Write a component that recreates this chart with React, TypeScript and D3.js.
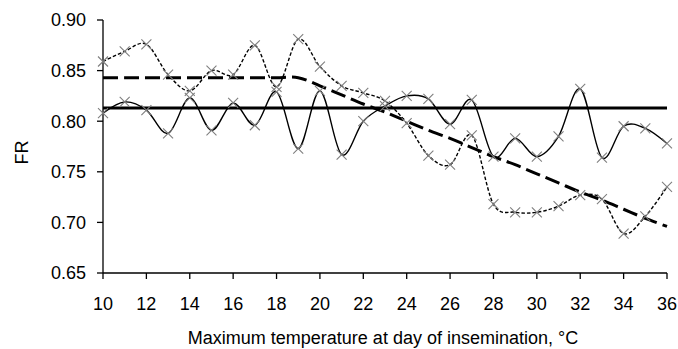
import React, { useRef, useEffect } from "react";
import * as d3 from "d3";

// temperature at day of insemination, °C
const temps = [10, 11, 12, 13, 14, 15, 16, 17, 18, 19, 20, 21, 22, 23, 24, 25, 26, 27, 28, 29, 30, 31, 32, 33, 34, 35, 36];

// solid series
const frSolid = [
  0.808, 0.819, 0.811, 0.788, 0.823, 0.791, 0.818, 0.796, 0.829, 0.773, 0.83, 0.767, 0.8, 0.815,
  0.825, 0.822, 0.797, 0.821, 0.765, 0.783, 0.765, 0.785, 0.832, 0.764, 0.795, 0.793, 0.778,
];

// dotted series
const frDotted = [
  0.859, 0.869, 0.876, 0.846, 0.83, 0.85, 0.846, 0.875, 0.834, 0.881, 0.854, 0.835, 0.828, 0.82,
  0.798, 0.766, 0.757, 0.786, 0.718, 0.71, 0.71, 0.716, 0.727, 0.723, 0.689, 0.706, 0.735,
];

// fitted plateau + linear decline
const frTrend = [
  0.843, 0.843, 0.843, 0.843, 0.843, 0.843, 0.843, 0.843, 0.843, 0.843, 0.835, 0.826, 0.817, 0.809,
  0.8, 0.791, 0.783, 0.774, 0.765, 0.757, 0.748, 0.739, 0.73, 0.722, 0.713, 0.704, 0.696,
];

// overall mean
const frMean = 0.813;

const xTicks = [10, 12, 14, 16, 18, 20, 22, 24, 26, 28, 30, 32, 34, 36];
const yTicks = [0.65, 0.7, 0.75, 0.8, 0.85, 0.9];

const WIDTH = 678;
const HEIGHT = 349;
const FONT = "'Liberation Sans', Arial, sans-serif";

export default function App() {
  const svgRef = useRef<SVGSVGElement>(null);

  useEffect(() => {
    document.body.style.margin = "0";
    const svg = d3.select(svgRef.current);
    svg.selectAll("*").remove();

    const x = d3.scaleLinear().domain([10, 36]).range([103, 667]);
    const y = d3.scaleLinear().domain([0.65, 0.9]).range([273, 20]);

    const g = svg.append("g");

    // axes
    g.append("line")
      .attr("x1", x(10)).attr("x2", x(10))
      .attr("y1", y(0.9)).attr("y2", y(0.65))
      .attr("stroke", "#000").attr("stroke-width", 1.3);
    g.append("line")
      .attr("x1", x(10)).attr("x2", x(36))
      .attr("y1", y(0.65)).attr("y2", y(0.65))
      .attr("stroke", "#000").attr("stroke-width", 1.3);

    yTicks.forEach((t) => {
      g.append("line")
        .attr("x1", x(10) - 6).attr("x2", x(10))
        .attr("y1", y(t)).attr("y2", y(t))
        .attr("stroke", "#000").attr("stroke-width", 1.3);
      g.append("text")
        .attr("x", 86)
        .attr("y", y(t))
        .attr("dy", "0.36em")
        .attr("text-anchor", "end")
        .attr("font-family", FONT)
        .attr("font-size", "18px")
        .attr("fill", "#000")
        .text(t.toFixed(2));
    });

    xTicks.forEach((t) => {
      g.append("line")
        .attr("x1", x(t)).attr("x2", x(t))
        .attr("y1", y(0.65)).attr("y2", y(0.65) + 6)
        .attr("stroke", "#000").attr("stroke-width", 1.3);
      g.append("text")
        .attr("x", x(t))
        .attr("y", 310)
        .attr("text-anchor", "middle")
        .attr("font-family", FONT)
        .attr("font-size", "18px")
        .attr("fill", "#000")
        .text(t);
    });

    // axis titles
    g.append("text")
      .attr("transform", `translate(28,${(y(0.9) + y(0.65)) / 2 + 6}) rotate(-90)`)
      .attr("text-anchor", "middle")
      .attr("font-family", FONT)
      .attr("font-size", "18px")
      .text("FR");
    g.append("text")
      .attr("x", 383)
      .attr("y", 344)
      .attr("text-anchor", "middle")
      .attr("font-family", FONT)
      .attr("font-size", "18px")
      .text("Maximum temperature at day of insemination, \u00B0C");

    const smooth = d3
      .line<number>()
      .x((_, i) => x(temps[i]))
      .y((d) => y(d))
      .curve(d3.curveCatmullRom.alpha(0));

    // mean line
    g.append("line")
      .attr("x1", x(10)).attr("x2", x(36))
      .attr("y1", y(frMean)).attr("y2", y(frMean))
      .attr("stroke", "#000").attr("stroke-width", 3);

    // trend
    g.append("path")
      .attr("d", smooth(frTrend))
      .attr("fill", "none")
      .attr("stroke", "#000")
      .attr("stroke-width", 3)
      .attr("stroke-dasharray", "15,6");

    // dotted series
    g.append("path")
      .attr("d", smooth(frDotted))
      .attr("fill", "none")
      .attr("stroke", "#000")
      .attr("stroke-width", 1.4)
      .attr("stroke-dasharray", "3.5,2");

    // solid series
    g.append("path")
      .attr("d", smooth(frSolid))
      .attr("fill", "none")
      .attr("stroke", "#000")
      .attr("stroke-width", 1.4);

    // x markers
    const s = 5;
    const drawMarkers = (vals: number[]) => {
      vals.forEach((v, i) => {
        const cx = x(temps[i]);
        const cy = y(v);
        g.append("path")
          .attr("d", `M${cx - s},${cy - s}L${cx + s},${cy + s}M${cx - s},${cy + s}L${cx + s},${cy - s}`)
          .attr("stroke", "#7f7f7f")
          .attr("stroke-width", 1.1)
          .attr("fill", "none");
      });
    };
    drawMarkers(frDotted);
    drawMarkers(frSolid);
  }, []);

  return (
    <svg
      ref={svgRef}
      width={WIDTH}
      height={HEIGHT}
      style={{ display: "block", background: "#fff" }}
    />
  );
}
